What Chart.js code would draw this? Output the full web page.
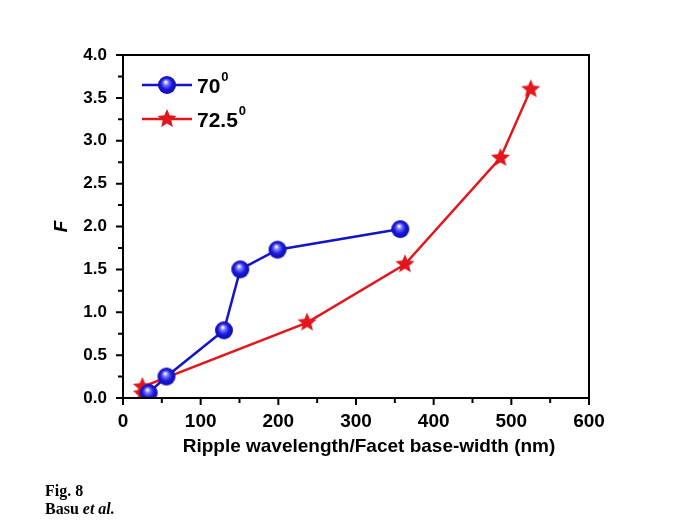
<!DOCTYPE html>
<html><head><meta charset="utf-8">
<script src="https://cdn.jsdelivr.net/npm/chart.js@4/dist/chart.umd.min.js"></script>
<style>html,body{margin:0;padding:0;background:#fff}#w{width:685px;height:528px;position:relative}</style>
</head><body><div id="w"><canvas id="c" width="685" height="528"></canvas></div>
<script>
const seriesNames = ['70', '72.5'];
const blueX = [33, 56, 130, 151, 199, 357];
const blueY = [0.06, 0.25, 0.79, 1.50, 1.73, 1.97];
const redX = [25, 25, 237, 363, 486, 525];
const redY = [0.05, 0.13, 0.88, 1.56, 2.80, 3.60];
const xTickLabels = ['0','100','200','300','400','500','600'];
const yTickLabels = ['0.0','0.5','1.0','1.5','2.0','2.5','3.0','3.5','4.0'];
const xTitle = 'Ripple wavelength/Facet base-width (nm)';
const yTitle = 'F';
const captionLines = ['Fig. 8', 'Basu'];

const BLUE = '#1414c8', RED = '#e3161c';

function sphere(r){
  const c=document.createElement('canvas'); c.width=c.height=2*r+2;
  const g=c.getContext('2d'); const cx=r+1, cy=r+1;
  const gr=g.createRadialGradient(cx-r*0.15,cy-r*0.35,r*0.05,cx,cy,r);
  gr.addColorStop(0,'#ffffff'); gr.addColorStop(0.25,'#7a7af7'); gr.addColorStop(0.6,'#1a1ae0'); gr.addColorStop(1,'#0c0ca8');
  g.fillStyle=gr; g.beginPath(); g.arc(cx,cy,r,0,Math.PI*2); g.fill();
  return c;
}
function star(r){
  const c=document.createElement('canvas'); c.width=c.height=2*r+2;
  const g=c.getContext('2d'); const cx=r+1, cy=r+1;
  g.fillStyle=RED; g.beginPath();
  for(let i=0;i<10;i++){const a=-Math.PI/2+i*Math.PI/5; const rr=i%2?r*0.45:r; g.lineTo(cx+rr*Math.cos(a),cy+rr*Math.sin(a));}
  g.closePath(); g.fill(); return c;
}
const sph=sphere(9), st=star(10);

const pts=(xs,ys)=>xs.map((x,i)=>({x,y:ys[i]}));

const framePlugin={id:'frame',afterDraw(ch){
  const ctx=ch.ctx, a=ch.chartArea, xs=ch.scales.x, ys=ch.scales.y;
  ctx.save(); ctx.strokeStyle='#000'; ctx.lineWidth=2;
  ctx.strokeRect(a.left,a.top,a.right-a.left,a.bottom-a.top);
  ctx.lineWidth=2; ctx.beginPath();
  for(let v=0;v<=600;v+=50){const p=xs.getPixelForValue(v); const L=(v%100===0)?7:5; ctx.moveTo(p,a.bottom); ctx.lineTo(p,a.bottom+L);}
  for(let v=0;v<=4.001;v+=0.25){const p=ys.getPixelForValue(v); const L=(Math.abs(v*2-Math.round(v*2))<1e-6)?7:5; ctx.moveTo(a.left,p); ctx.lineTo(a.left-L,p);}
  ctx.stroke();
  // x-axis title, drawn centred a little right of the plot centre as in the reference
  ctx.fillStyle='#000'; ctx.font='bold 19px "Liberation Sans", Arial'; ctx.textAlign='center'; ctx.textBaseline='middle';
  ctx.fillText(xTitle,(a.left+a.right)/2+13,447);
  // legend
  const rows=[{name:seriesNames[0],col:BLUE,img:sph,y:85},{name:seriesNames[1],col:RED,img:st,y:119}];
  rows.forEach(r=>{
    ctx.strokeStyle=r.col; ctx.lineWidth=2.5; ctx.beginPath(); ctx.moveTo(142,r.y); ctx.lineTo(192,r.y); ctx.stroke();
    ctx.drawImage(r.img,167-r.img.width/2,r.y-r.img.height/2);
    ctx.fillStyle='#000'; ctx.font='bold 21px "Liberation Sans", Arial'; ctx.textBaseline='middle'; ctx.textAlign='left';
    ctx.fillText(r.name,197,r.y+2);
    const w=ctx.measureText(r.name).width;
    ctx.font='bold 13px "Liberation Sans", Arial'; ctx.fillText('0',197+w+1,r.y-8);
  });
  // caption
  ctx.fillStyle='#000'; ctx.textBaseline='alphabetic'; ctx.textAlign='left'; ctx.font='bold 16px "Liberation Serif", "Times New Roman", serif';
  ctx.fillText(captionLines[0],45,496);
  ctx.fillText(captionLines[1]+' ',45,514);
  const bw=ctx.measureText(captionLines[1]+' ').width;
  ctx.font='italic bold 16px "Liberation Serif", "Times New Roman", serif';
  ctx.fillText('et al.',45+bw,514);
  ctx.restore();
}};

new Chart(document.getElementById('c'),{
  type:'line',
  data:{datasets:[
    {label:seriesNames[0],data:pts(blueX,blueY),borderColor:BLUE,borderWidth:2.5,pointStyle:sph,pointRadius:9,tension:0},
    {label:seriesNames[1],data:pts(redX,redY),borderColor:RED,borderWidth:2.5,pointStyle:st,pointRadius:10,tension:0}
  ]},
  options:{
    responsive:false,animation:false,
    layout:{padding:{left:50,right:96,top:55,bottom:70}},
    plugins:{legend:{display:false},tooltip:{enabled:false}},
    scales:{
      x:{type:'linear',min:0,max:600,
        afterFit(s){s.height=60;},
        border:{display:false},
        grid:{display:false,drawOnChartArea:false},
        ticks:{stepSize:100,padding:4,color:'#000',font:{family:'"Liberation Sans", Arial',size:19,weight:'bold'},
          callback:(v)=>{const i=Math.round(v/100);return xTickLabels[i]??'';}},
        title:{display:false}},
      y:{type:'linear',min:0,max:4,
        afterFit(s){s.width=73;},
        border:{display:false},
        grid:{display:false,drawOnChartArea:false},
        ticks:{stepSize:0.5,padding:8,color:'#000',font:{family:'"Liberation Sans", Arial',size:17,weight:'bold'},
          callback:(v)=>{const i=Math.round(v*2);return yTickLabels[i]??'';}},
        title:{display:true,text:yTitle,color:'#000',padding:{top:0,bottom:0},font:{family:'"Liberation Sans", Arial',size:19,weight:'bold',style:'italic'}}}
    }
  },
  plugins:[framePlugin]
});
</script></body></html>
